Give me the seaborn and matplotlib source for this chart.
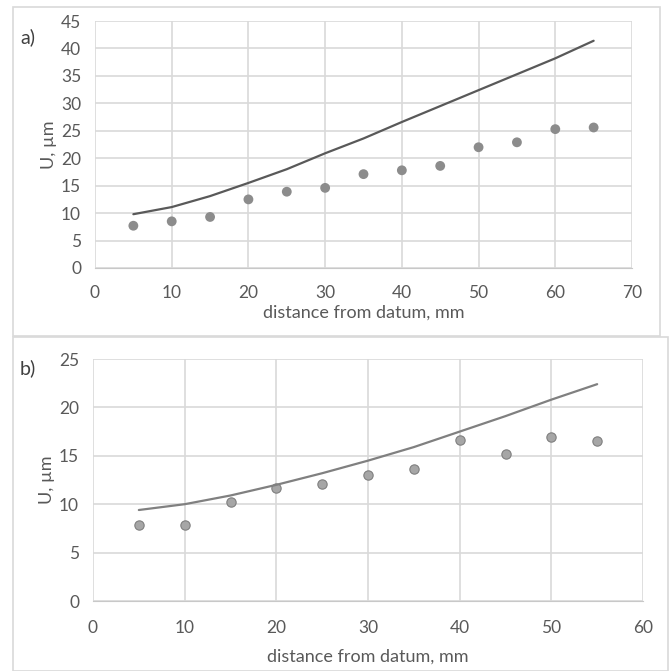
import matplotlib
matplotlib.use("Agg")
import matplotlib.pyplot as plt
import numpy as np
import seaborn as sns
from matplotlib.patches import Rectangle

# panel a) data
dist_a = [5, 10, 15, 20, 25, 30, 35, 40, 45, 50, 55, 60, 65]
meas_a = [7.7, 8.5, 9.3, 12.5, 13.9, 14.6, 17.1, 17.8, 18.6, 22.0, 22.9, 25.3, 25.6]
model_a = [9.8, 11.1, 13.1, 15.5, 18.0, 20.9, 23.6, 26.6, 29.5, 32.4, 35.3, 38.2, 41.4]

# panel b) data
dist_b = [5, 10, 15, 20, 25, 30, 35, 40, 45, 50, 55]
meas_b = [7.8, 7.9, 10.25, 11.7, 12.1, 13.05, 13.6, 16.6, 15.2, 16.9, 16.5]
model_b = [9.4, 10.0, 10.9, 12.0, 13.2, 14.5, 15.9, 17.5, 19.1, 20.8, 22.4]

sns.set_style("whitegrid", {"grid.color": "#d9d9d9", "axes.edgecolor": "#d9d9d9"})
plt.rcParams["font.family"] = ["Lato", "DejaVu Sans"]
txt = "#595959"

fig = plt.figure(figsize=(6.7, 6.71), dpi=100)

# outer chart frames (pixel coords -> figure fraction)
W, H = 670, 671
for (x0, y0, x1, y1) in [(13, 7, 660, 336), (13, 337, 668, 671)]:
    fig.patches.append(Rectangle((x0 / W, 1 - y1 / H), (x1 - x0) / W, (y1 - y0) / H,
                                 transform=fig.transFigure, fill=False,
                                 edgecolor="#d9d9d9", lw=1.2))

ax1 = fig.add_axes([95 / W, 1 - 268 / H, (632 - 95) / W, (268 - 21) / H])
ax2 = fig.add_axes([93 / W, 1 - 601 / H, (643 - 93) / W, (601 - 359) / H])

sns.lineplot(x=dist_a, y=model_a, ax=ax1, color="#595959", lw=1.6)
sns.scatterplot(x=dist_a, y=meas_a, ax=ax1, color="#8c8c8c", s=50, edgecolor="none")
ax1.set_xlim(0, 70)
ax1.set_ylim(0, 45)
ax1.set_xticks(range(0, 71, 10))
ax1.set_yticks(range(0, 46, 5))

sns.lineplot(x=dist_b, y=model_b, ax=ax2, color="#808080", lw=1.6)
sns.scatterplot(x=dist_b, y=meas_b, ax=ax2, color="#a6a6a6", s=45, edgecolor="#7f7f7f", linewidth=0.8)
ax2.set_xlim(0, 60)
ax2.set_ylim(0, 25)
ax2.set_xticks(range(0, 61, 10))
ax2.set_yticks(range(0, 26, 5))

for ax, xpad, lpad in ((ax1, 12, 3), (ax2, 14, 9)):
    ax.grid(True, color="#d9d9d9", lw=1.2)
    for side in ("top", "right", "left"):
        ax.spines[side].set_visible(False)
    ax.spines["bottom"].set_color("#c8c8c8")
    ax.tick_params(axis="both", length=0, labelsize=12.5, labelcolor=txt)
    ax.tick_params(axis="x", pad=xpad)
    ax.tick_params(axis="y", pad=10)
    ax.set_xlabel("distance from datum, mm", fontsize=13, color=txt, labelpad=lpad)
    ax.set_ylabel("U, µm", fontsize=13, color=txt, labelpad=3)

fig.text(20 / W, 1 - 37 / H, "a)", fontsize=14, color="#404040", va="center")
fig.text(20 / W, 1 - 368 / H, "b)", fontsize=14, color="#404040", va="center")

fig.savefig("out.png", dpi=100)
